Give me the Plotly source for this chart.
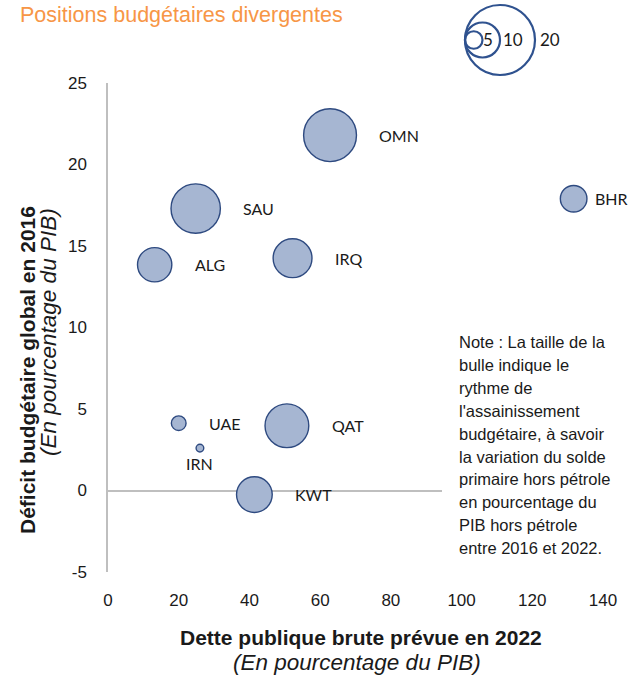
import plotly.graph_objects as go

# ---- data ----
countries = ["OMN", "SAU", "ALG", "IRQ", "BHR", "UAE", "IRN", "QAT", "KWT"]
debt_2022 = [62.8, 24.8, 13.2, 52.2, 131.7, 20.0, 26.0, 50.6, 41.4]
deficit_2016 = [21.8, 17.3, 13.85, 14.25, 17.9, 4.13, 2.6, 3.97, -0.25]
consolidation = [15.1, 14.1, 9.8, 11.1, 7.6, 4.2, 2.2, 12.5, 10.2]
legend_sizes = [5, 10, 20]
x_ticks = [0, 20, 40, 60, 80, 100, 120, 140]
y_ticks = [-5, 0, 5, 10, 15, 20, 25]
y_tick_text = ["-5", "0", "5", "10", "15", "20", "25"]
note_lines = ["Note : La taille de la", "bulle indique le", "rythme de", "l'assainissement",
              "budgétaire, à savoir", "la variation du solde", "primaire hors pétrole",
              "en pourcentage du", "PIB hors pétrole", "entre 2016 et 2022."]

W, H = 641, 675
L, T = 108, 83
R = W - 603
B = H - 572
PW, PH = W - L - R, H - T - B
DIAM_PER_UNIT = 3.5  # pixel diameter per unit of bubble value

FILL = "#A6B6D2"
EDGE = "#2E4A80"
AXIS = "#BFBFBF"
TXT = "#1a1a1a"
NUM_FONT = "Liberation Sans, Arial, sans-serif"
LAB_FONT = "Lato, Carlito, Calibri, sans-serif"


def px_x(p):
    """page pixel x -> paper coordinate"""
    return (p - L) / PW


def px_y(p):
    """page pixel y -> paper coordinate"""
    return (H - B - p) / PH


fig = go.Figure()
fig.add_trace(go.Scatter(
    x=debt_2022, y=deficit_2016, mode="markers",
    marker=dict(size=consolidation, sizemode="diameter", sizeref=1 / DIAM_PER_UNIT,
                color=FILL, opacity=1, line=dict(color=EDGE, width=1.4)),
    hoverinfo="text", text=countries, showlegend=False,
))

# country labels
for c, x, y, s in zip(countries, debt_2022, deficit_2016, consolidation):
    r = s * DIAM_PER_UNIT / 2
    if c == "IRN":
        fig.add_annotation(x=x, y=y, text=c, showarrow=False, xanchor="center",
                           yanchor="middle", yshift=-15, font=dict(family=LAB_FONT, size=16, color=TXT))
    else:
        gap = 6 if c == "BHR" else 21
        fig.add_annotation(x=x, y=y, text=c, showarrow=False, xanchor="left",
                           yanchor="middle", xshift=r + gap,
                           font=dict(family=LAB_FONT, size=16, color=TXT))

# size legend circles (left-aligned)
lx, ly = px_x(465), px_y(40)
for s in legend_sizes:
    r = s * DIAM_PER_UNIT / 2
    fig.add_shape(type="circle", xref="paper", yref="paper",
                  xsizemode="pixel", ysizemode="pixel", xanchor=lx, yanchor=ly,
                  x0=0, x1=2 * r, y0=-r, y1=r,
                  line=dict(color="#2F528F", width=2.2), fillcolor="rgba(0,0,0,0)")
leg_label_x = {5: 487.5, 10: 513, 20: 550}
for s in legend_sizes:
    fig.add_annotation(xref="paper", yref="paper", x=px_x(leg_label_x[s]), y=ly,
                       text=str(s), showarrow=False, xanchor="center", yanchor="middle",
                       font=dict(family=LAB_FONT, size=17, color=TXT))

# title
fig.add_annotation(xref="paper", yref="paper", x=px_x(18), y=px_y(15), text="Positions budgétaires divergentes",
                   showarrow=False, xanchor="left", yanchor="middle",
                   font=dict(family=NUM_FONT, size=21.5, color="#F79646"))

# axis titles
fig.add_annotation(xref="paper", yref="paper", x=px_x(361), y=px_y(637),
                   text="<b>Dette publique brute prévue en 2022</b>", showarrow=False,
                   xanchor="center", yanchor="middle", font=dict(family=NUM_FONT, size=21, color=TXT))
fig.add_annotation(xref="paper", yref="paper", x=px_x(357), y=px_y(662),
                   text="<i>(En pourcentage du PIB)</i>", showarrow=False,
                   xanchor="center", yanchor="middle", font=dict(family=NUM_FONT, size=22.5, color=TXT))
fig.add_annotation(xref="paper", yref="paper", x=px_x(27), y=px_y(370),
                   text="<b>Déficit budgétaire global en 2016</b>", showarrow=False, textangle=-90,
                   xanchor="center", yanchor="middle", font=dict(family=NUM_FONT, size=21, color=TXT))
fig.add_annotation(xref="paper", yref="paper", x=px_x(48), y=px_y(332),
                   text="<i>(En pourcentage du PIB)</i>", showarrow=False, textangle=-90,
                   xanchor="center", yanchor="middle", font=dict(family=NUM_FONT, size=22.5, color=TXT))

# note box
fig.add_shape(type="rect", xref="paper", yref="paper", x0=px_x(442), x1=px_x(630),
              y0=px_y(325), y1=px_y(565), fillcolor="white", line=dict(width=0), layer="above")
for i, line in enumerate(note_lines):
    fig.add_annotation(xref="paper", yref="paper", x=px_x(457), y=px_y(342 + 22.9 * i), text=line,
                       showarrow=False, xanchor="left", yanchor="middle", align="left",
                       font=dict(family=NUM_FONT, size=16.5, color=TXT))

fig.update_layout(
    width=W, height=H, margin=dict(l=L, r=R, t=T, b=B),
    paper_bgcolor="white", plot_bgcolor="white",
    xaxis=dict(range=[0, 140], tickvals=x_ticks, showgrid=False, zeroline=False, showline=False,
               ticks="", ticklabelstandoff=16, tickfont=dict(family=NUM_FONT, size=17, color=TXT)),
    yaxis=dict(range=[-5, 25], tickvals=y_ticks, ticktext=y_tick_text, showgrid=False, zeroline=True,
               zerolinecolor=AXIS, zerolinewidth=1.5, showline=True, linecolor=AXIS, linewidth=1.5,
               ticks="", ticklabelstandoff=16, tickfont=dict(family=NUM_FONT, size=17, color=TXT)),
)

fig.write_html("out.html", config={"displayModeBar": False},
               post_script="document.body.style.margin='0';")
